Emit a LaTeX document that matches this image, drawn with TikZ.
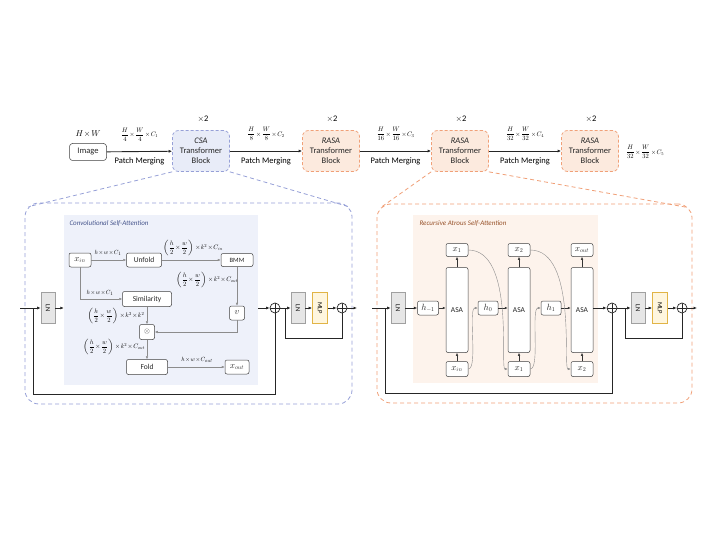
\documentclass[tikz,border=0pt]{standalone}
\usepackage{amsmath, amssymb}
\usepackage{graphicx}
\usepackage{fontspec}
\setmainfont{Carlito}
\DeclareFontShape{OML}{cmm}{m}{it}{<->cmmi10}{\skewchar\font=127 }
\DeclareFontShape{OMS}{cmsy}{m}{n}{<->cmsy10}{\skewchar\font=48 }
\DeclareFontShape{OT1}{cmr}{m}{n}{<->cmr10}{}
\usepackage{tikz}
\usetikzlibrary{arrows.meta}
\definecolor{csaFill}{RGB}{232,236,248}
\definecolor{csaLine}{RGB}{150,160,215}
\definecolor{csaBg}{RGB}{238,241,250}
\definecolor{csaTitle}{RGB}{70,85,140}
\definecolor{rasaFill}{RGB}{252,234,222}
\definecolor{rasaLine}{RGB}{240,160,120}
\definecolor{rasaBg}{RGB}{253,243,236}
\definecolor{rasaTitle}{RGB}{150,80,40}
\definecolor{lnFill}{RGB}{230,230,230}
\definecolor{lnLine}{RGB}{160,160,160}
\definecolor{mlpFill}{RGB}{255,246,222}
\definecolor{mlpLine}{RGB}{225,180,70}
\definecolor{connGray}{RGB}{140,140,140}
\newcommand{\fsz}[1]{\fontsize{#1}{#1}\selectfont}
\newcommand{\tx}{\mkern1.5mu{\times}\mkern1.5mu}
\tikzset{
    box/.style={draw=black!75, rounded corners=2pt, fill=white, line width=0.5pt, inner sep=1pt, font=\fsz{7.5}, text=black!85},
    mbox/.style={box, font=\fsz{9}},
    conn/.style={draw=connGray, line width=0.45pt, -{Latex[length=3pt,width=2.4pt]}},
    shortarr/.style={draw=black!80, line width=0.5pt, -{Latex[length=3pt,width=2.4pt]}},
    curv/.style={draw=connGray, line width=0.4pt, -{Latex[length=3pt,width=2.4pt]}},
    main/.style={draw=black!85, line width=0.9pt},
    mainarr/.style={main, -{Latex[length=3.5pt,width=3pt]}},
    tblock/.style={dash pattern=on 3pt off 2pt, rounded corners=6pt, minimum width=57pt, minimum height=41pt, align=center, font=\fontsize{8.5}{10}\selectfont, inner sep=1pt, line width=0.7pt, text=black!85},
    panel/.style={dash pattern=on 4pt off 3pt, line width=0.8pt, rounded corners=14pt},
    lnbox/.style={draw=lnLine, fill=lnFill, line width=0.6pt, minimum width=14pt, minimum height=31pt, inner sep=0pt, font=\fsz{6.5}},
    mlpbox/.style={draw=mlpLine, fill=mlpFill, line width=0.8pt, minimum width=15pt, minimum height=31pt, inner sep=0pt, font=\fsz{6.5}},
    plus/.style={circle, draw=black!85, line width=0.7pt, minimum size=10pt, inner sep=0pt, path picture={\draw[line width=0.7pt] (path picture bounding box.north) -- (path picture bounding box.south) (path picture bounding box.west) -- (path picture bounding box.east);}},
    dimlbl/.style={font=\fsz{6}, inner sep=0pt, text=black},
    fraclbl/.style={font=\fsz{6.5}, inner sep=0pt, text=black},
    toplbl/.style={font=\fsz{6.5}, inner sep=0pt, text=black},
}

\begin{document}
\begin{tikzpicture}[x=1pt, y=-1pt]
\useasboundingbox (0,0) rectangle (720,540);

\node[box, minimum width=37pt, minimum height=17pt, font=\fsz{8.5}, rounded corners=3pt] (img) at (88,152) {Image};
\node[font=\fsz{8.5}] (imgsize) at (88,134) {$H\tx W$};
\node[tblock, draw=csaLine, fill=csaFill] (csa) at (201,151) {\textit{CSA}\\Transformer\\Block};
\node[tblock, draw=rasaLine, fill=rasaFill] (rasaA) at (331,151) {\textit{RASA}\\Transformer\\Block};
\node[tblock, draw=rasaLine, fill=rasaFill] (rasaB) at (460,151) {\textit{RASA}\\Transformer\\Block};
\node[tblock, draw=rasaLine, fill=rasaFill] (rasaC) at (590,151) {\textit{RASA}\\Transformer\\Block};
\node[font=\fsz{8.5}] (repA) at (203,119) {$\times$2};
\node[font=\fsz{8.5}] (repB) at (332,119) {$\times$2};
\node[font=\fsz{8.5}] (repC) at (461,119) {$\times$2};
\node[font=\fsz{8.5}] (repD) at (591,119) {$\times$2};
\draw[mainarr] (img) -- node[midway, yshift=17pt, toplbl] {$\displaystyle\frac{H}{4}\tx\frac{W}{4}\tx C_1$} node[midway, yshift=-10pt, font=\fsz{8.5}] {Patch Merging} (csa);
\draw[mainarr] (csa) -- node[midway, yshift=17pt, toplbl] {$\displaystyle\frac{H}{8}\tx\frac{W}{8}\tx C_2$} node[midway, yshift=-10pt, font=\fsz{8.5}] {Patch Merging} (rasaA);
\draw[mainarr] (rasaA) -- node[midway, yshift=17pt, toplbl] {$\displaystyle\frac{H}{16}\tx\frac{W}{16}\tx C_3$} node[midway, yshift=-10pt, font=\fsz{8.5}] {Patch Merging} (rasaB);
\draw[mainarr] (rasaB) -- node[midway, yshift=17pt, toplbl] {$\displaystyle\frac{H}{32}\tx\frac{W}{32}\tx C_4$} node[midway, yshift=-10pt, font=\fsz{8.5}] {Patch Merging} (rasaC);
\node[toplbl] (outdim) at (645,152) {$\displaystyle\frac{H}{32}\tx\frac{W}{32}\tx C_5$};

\node[draw=csaLine, panel, minimum width=327pt, minimum height=201pt] (csapanel) at (188.5,303.5) {};
\draw[csaLine, panel] (csa.south west) -- ([xshift=4pt,yshift=-4pt]csapanel.north west);
\draw[csaLine, panel] (csa.south east) -- ([xshift=-4pt,yshift=-4pt]csapanel.north east);
\node[fill=csaBg, minimum width=194pt, minimum height=170pt, inner sep=0pt] (csabg) at (161,300) {};
\node[anchor=west, font=\itshape\fsz{7}, text=csaTitle] (csatitle) at (66,223) {Convolutional Self-Attention};

\node[mbox, minimum width=22pt, minimum height=14pt] (xin) at (80,260) {$x_{in}$};
\node[box, minimum width=35pt, minimum height=14pt] (unfold) at (144,260) {Unfold};
\node[box, minimum width=32pt, minimum height=13pt, font=\fsz{6.5}] (bmm) at (237,260) {BMM};
\node[box, minimum width=49pt, minimum height=15pt] (sim) at (147,299) {Similarity};
\node[mbox, minimum width=15pt, minimum height=14pt] (vv) at (237,313) {$v$};
\node[box, minimum width=15pt, minimum height=15pt] (mul) at (147,332) {$\otimes$};
\node[box, minimum width=41pt, minimum height=15pt] (fold) at (147,367) {Fold};
\node[mbox, minimum width=24pt, minimum height=14pt] (xout) at (237,367) {$x_{out}$};
\draw[conn] (xin) -- (unfold);
\draw[conn] (unfold) -- (bmm);
\draw[conn] (bmm) -- (vv);
\draw[conn] (xin) |- (sim);
\draw[conn] (sim) -- (mul);
\draw[conn] (vv) |- (mul);
\draw[conn] (mul) -- (fold);
\draw[conn] (fold) -- (xout);
\node[dimlbl] (dimA) at (108,253) {$h\tx w\tx C_1$};
\node[fraclbl] (dimB) at (193,248) {$\left(\displaystyle\frac{h}{2}\tx\frac{w}{2}\right)\tx k^2\tx C_{in}$};
\node[fraclbl] (dimC) at (207,280) {$\left(\displaystyle\frac{h}{2}\tx\frac{w}{2}\right)\tx k^2\tx C_{out}$};
\node[dimlbl] (dimD) at (100,293) {$h\tx w\tx C_1$};
\node[fraclbl] (dimE) at (116,316) {$\left(\displaystyle\frac{h}{2}\tx\frac{w}{2}\right)\tx k^2\tx k^2$};
\node[fraclbl] (dimF) at (114,347) {$\left(\displaystyle\frac{h}{2}\tx\frac{w}{2}\right)\tx k^2\tx C_{out}$};
\node[dimlbl] (dimG) at (197,360) {$h\tx w\tx C_{out}$};

\coordinate (inA) at (20,308);
\coordinate (skipA) at (33,308);
\node[lnbox] (lnA) at (48,308) {\rotatebox{-90}{LN}};
\node[plus] (plusA) at (275,308) {};
\node[lnbox] (lnB) at (298,308) {\rotatebox{-90}{LN}};
\node[mlpbox] (mlpA) at (320,308) {\rotatebox{-90}{MLP}};
\node[plus] (plusB) at (342,308) {};
\coordinate (skipB) at (285,308);
\coordinate (outA) at (357,308);
\draw[mainarr] (inA) -- (lnA);
\draw[mainarr] (lnA) -- (lnA -| csabg.west);
\draw[mainarr] (plusA -| csabg.east) -- (plusA);
\draw[main] (skipA) -- ++(0,86) -| (plusA);
\draw[mainarr] (plusA) -- (lnB);
\draw[mainarr] (lnB) -- (mlpA);
\draw[mainarr] (mlpA) -- (plusB);
\draw[mainarr] (plusB) -- (outA);
\draw[main] (skipB) -- ++(0,30) -| (plusB);

\node[draw=rasaLine, panel, minimum width=315pt, minimum height=199pt] (rasapanel) at (534.5,303.5) {};
\draw[rasaLine, panel] (rasaB.south west) -- ([xshift=4pt,yshift=-4pt]rasapanel.north west);
\draw[rasaLine, panel] (rasaB.south east) -- ([xshift=-4pt,yshift=-4pt]rasapanel.north east);
\node[fill=rasaBg, minimum width=185pt, minimum height=168pt, inner sep=0pt] (rasabg) at (505.5,299) {};
\node[anchor=west, font=\itshape\fsz{7}, text=rasaTitle] (rasatitle) at (416,223) {Recursive Atrous Self-Attention};

\node[mbox, minimum width=21pt, minimum height=14pt] (hm) at (428,308) {$h_{-1}$};
\node[mbox, minimum width=20pt, minimum height=14pt] (hz) at (488,308) {$h_0$};
\node[mbox, minimum width=20pt, minimum height=14pt] (ho) at (551,308) {$h_1$};
\node[box, minimum width=22pt, minimum height=85pt] (asaA) at (457,310) {ASA};
\node[box, minimum width=22pt, minimum height=85pt] (asaB) at (519,310) {ASA};
\node[box, minimum width=22pt, minimum height=85pt] (asaC) at (582,310) {ASA};
\node[mbox, minimum width=22pt, minimum height=13pt] (topA) at (457,250) {$x_1$};
\node[mbox, minimum width=22pt, minimum height=13pt] (topB) at (519,250) {$x_2$};
\node[mbox, minimum width=22pt, minimum height=13pt] (topC) at (582,250) {$x_{out}$};
\node[mbox, minimum width=22pt, minimum height=15pt] (botA) at (457,369) {$x_{in}$};
\node[mbox, minimum width=22pt, minimum height=15pt] (botB) at (519,369) {$x_1$};
\node[mbox, minimum width=22pt, minimum height=15pt] (botC) at (582,369) {$x_2$};
\draw[shortarr] (hm) -- (hm -| asaA.west);
\draw[shortarr] (hz) -- (hz -| asaB.west);
\draw[shortarr] (ho) -- (ho -| asaC.west);
\draw[shortarr] (asaA) -- (topA);
\draw[shortarr] (asaB) -- (topB);
\draw[shortarr] (asaC) -- (topC);
\draw[shortarr] (botA) -- (asaA);
\draw[shortarr] (botB) -- (asaB);
\draw[shortarr] (botC) -- (asaC);
\draw[curv] (topA.east) .. controls +(47,0) and +(-8,0) .. (botB.west);
\draw[curv] (topB.east) .. controls +(47,0) and +(-8,0) .. (botC.west);
\draw[curv] (botA.east) .. controls +(10,0) and +(-10,0) .. (hz.west);
\draw[curv] (botB.east) .. controls +(10,0) and +(-10,0) .. (ho.west);

\coordinate (inB) at (372,308);
\coordinate (skipC) at (385,308);
\node[lnbox] (lnC) at (398,308) {\rotatebox{-90}{LN}};
\node[plus] (plusC) at (612,308) {};
\node[lnbox] (lnD) at (638,308) {\rotatebox{-90}{LN}};
\node[mlpbox] (mlpB) at (660,308) {\rotatebox{-90}{MLP}};
\node[plus] (plusD) at (682,308) {};
\coordinate (skipD) at (625,308);
\coordinate (outB) at (697,308);
\draw[mainarr] (inB) -- (lnC);
\draw[mainarr] (lnC) -- (hm);
\draw[mainarr] (asaC.east |- plusC) -- (plusC);
\draw[main] (skipC) -- ++(0,85) -| (plusC);
\draw[mainarr] (plusC) -- (lnD);
\draw[mainarr] (lnD) -- (mlpB);
\draw[mainarr] (mlpB) -- (plusD);
\draw[mainarr] (plusD) -- (outB);
\draw[main] (skipD) -- ++(0,30) -| (plusD);
\end{tikzpicture}
\end{document}
